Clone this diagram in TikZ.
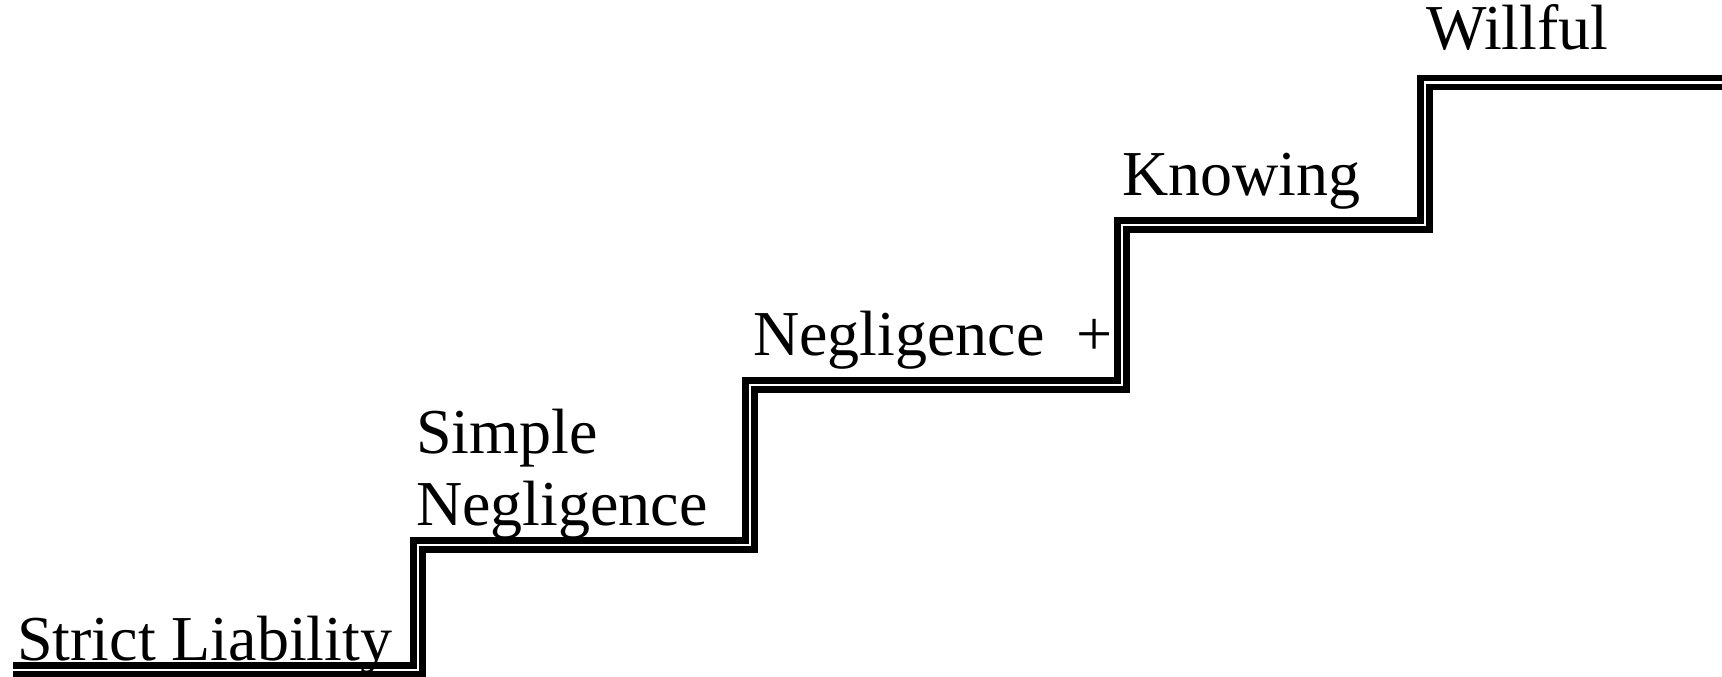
\documentclass[tikz,border=0pt]{standalone}
\usepackage{fontspec}
\setmainfont{Liberation Serif}
\begin{document}
\begin{tikzpicture}[x=1pt,y=-1pt,
  stair/.style={line width=6.5pt, double=white, double distance=2.5pt, line join=miter, draw=black},
  lbl/.style={anchor=base west, inner sep=0pt, font=\fontsize{64}{74}\selectfont}]
\useasboundingbox (0,0) rectangle (1722,677);
\draw[stair] (13,670) -- (418,670) -- (418,545) -- (750,545) -- (750,385)
  -- (1122,385) -- (1122,225) -- (1425,225) -- (1425,82.5) -- (1730,82.5);
\node[lbl] (sl) at (17,660) {Strict Liability};
\node[lbl] (sn1) at (416,453) {Simple};
\node[lbl] (sn2) at (416,525) {Negligence};
\node[lbl] (np) at (753,355) {Negligence\ \ +};
\node[lbl] (kn) at (1122,195) {Knowing};
\node[lbl] (wf) at (1426,50) {Willful};
\end{tikzpicture}
\end{document}
